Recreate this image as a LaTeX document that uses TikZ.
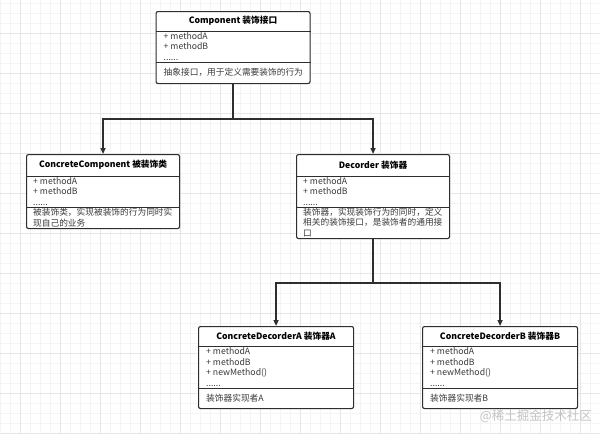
\documentclass[tikz,border=0pt]{standalone}
\usepackage{fontspec}
\setmainfont{Noto Sans CJK SC}
\usetikzlibrary{arrows.meta,calc,positioning}
\definecolor{ink}{HTML}{2E2E2E}
\definecolor{txt}{HTML}{3A3A3A}
\definecolor{gridlite}{HTML}{F4F4F4}
\definecolor{griddark}{HTML}{E6E6E6}
\definecolor{wmark}{HTML}{C2C2C2}
\tikzset{
  classbox/.style={draw=ink,line width=1.1pt,rounded corners=2pt,fill=white,anchor=north west,inner sep=0pt},
  sepline/.style={draw=ink,line width=0.7pt},
  titletext/.style={font=\fontsize{8.7}{10.6}\selectfont\bfseries,text=black,inner sep=0pt},
  membtext/.style={font=\fontsize{8.7}{10.6}\selectfont,text=txt,align=left,inner sep=0pt,anchor=west},
  conn/.style={draw=ink,line width=1.5pt,-{Triangle[length=6pt,width=5pt]}},
}

\begin{document}
\begin{tikzpicture}[x=1pt,y=1pt]
  \useasboundingbox (0,0) rectangle (600,-434);
  % background grid
  \draw[gridlite,line width=0.4pt,yshift=-3pt] (0,3) grid[step=10pt] (600,-431);
  \draw[griddark,line width=0.4pt,xshift=20pt,yshift=-33pt] (-20,33) grid[step=40pt] (580,-401);

  % Component
  \node[classbox,minimum width=154,minimum height=72] (comp) at (155.5,-11) {};
  \draw[sepline] ($(comp.north west)+(0,-20)$) -- ($(comp.north east)+(0,-20)$);
  \draw[sepline] ($(comp.north west)+(0,-51)$) -- ($(comp.north east)+(0,-51)$);
  \node[titletext] (compT) at ($(comp.north)+(0,-10)$) {Component 装饰接口};
  \node[membtext] (compM) at ($(comp.north west)+(8,-35.5)$) {+ methodA\\+ methodB\\......};
  \node[membtext] (compD) at ($(comp.north west)+(8,-61.5)$) {抽象接口，用于定义需要装饰的行为};

  % ConcreteComponent
  \node[classbox,minimum width=153,minimum height=74] (conc) at (26,-154) {};
  \draw[sepline] ($(conc.north west)+(0,-22)$) -- ($(conc.north east)+(0,-22)$);
  \draw[sepline] ($(conc.north west)+(0,-53)$) -- ($(conc.north east)+(0,-53)$);
  \node[titletext] (concT) at ($(conc.north)+(0,-11)$) {ConcreteComponent 被装饰类};
  \node[membtext] (concM) at ($(conc.north west)+(7,-37.5)$) {+ methodA\\+ methodB\\......};
  \node[membtext] (concD) at ($(conc.north west)+(7,-63.5)$) {被装饰类，实现被装饰的行为同时实\\现自己的业务};

  % Decorder
  \node[classbox,minimum width=153,minimum height=84] (deco) at (296,-154) {};
  \draw[sepline] ($(deco.north west)+(0,-22)$) -- ($(deco.north east)+(0,-22)$);
  \draw[sepline] ($(deco.north west)+(0,-53)$) -- ($(deco.north east)+(0,-53)$);
  \node[titletext] (decoT) at ($(deco.north)+(0,-11)$) {Decorder 装饰器};
  \node[membtext] (decoM) at ($(deco.north west)+(7,-37.5)$) {+ methodA\\+ methodB\\......};
  \node[membtext] (decoD) at ($(deco.north west)+(7,-68.5)$) {装饰器，实现装饰行为的同时，定义\\相关的装饰接口，是装饰者的通用接\\口};

  % ConcreteDecorderA
  \node[classbox,minimum width=155,minimum height=82] (cda) at (198,-326) {};
  \draw[sepline] ($(cda.north west)+(0,-20)$) -- ($(cda.north east)+(0,-20)$);
  \draw[sepline] ($(cda.north west)+(0,-62)$) -- ($(cda.north east)+(0,-62)$);
  \node[titletext] (cdaT) at ($(cda.north)+(0,-10)$) {ConcreteDecorderA 装饰器A};
  \node[membtext] (cdaM) at ($(cda.north west)+(8,-41)$) {+ methodA\\+ methodB\\+ newMethod()\\......};
  \node[membtext] (cdaD) at ($(cda.north west)+(8,-72)$) {装饰器实现者A};

  % ConcreteDecorderB
  \node[classbox,minimum width=155,minimum height=82] (cdb) at (422,-326) {};
  \draw[sepline] ($(cdb.north west)+(0,-20)$) -- ($(cdb.north east)+(0,-20)$);
  \draw[sepline] ($(cdb.north west)+(0,-62)$) -- ($(cdb.north east)+(0,-62)$);
  \node[titletext] (cdbT) at ($(cdb.north)+(0,-10)$) {ConcreteDecorderB 装饰器B};
  \node[membtext] (cdbM) at ($(cdb.north west)+(8,-41)$) {+ methodA\\+ methodB\\+ newMethod()\\......};
  \node[membtext] (cdbD) at ($(cdb.north west)+(8,-72)$) {装饰器实现者B};

  % connectors
  \draw[conn] (comp.south) -- ++(0,-35) -| (conc.north);
  \draw[conn] (comp.south) -- ++(0,-35) -| (deco.north);
  \draw[conn] (deco.south) -- ++(0,-44) -| (cda.north);
  \draw[conn] (deco.south) -- ++(0,-44) -| (cdb.north);

  \node[text=wmark,font=\fontsize{12.5}{14}\selectfont,inner sep=0pt,anchor=east] (wm) at (592,-416) {@稀土掘金技术社区};
\end{tikzpicture}
\end{document}
